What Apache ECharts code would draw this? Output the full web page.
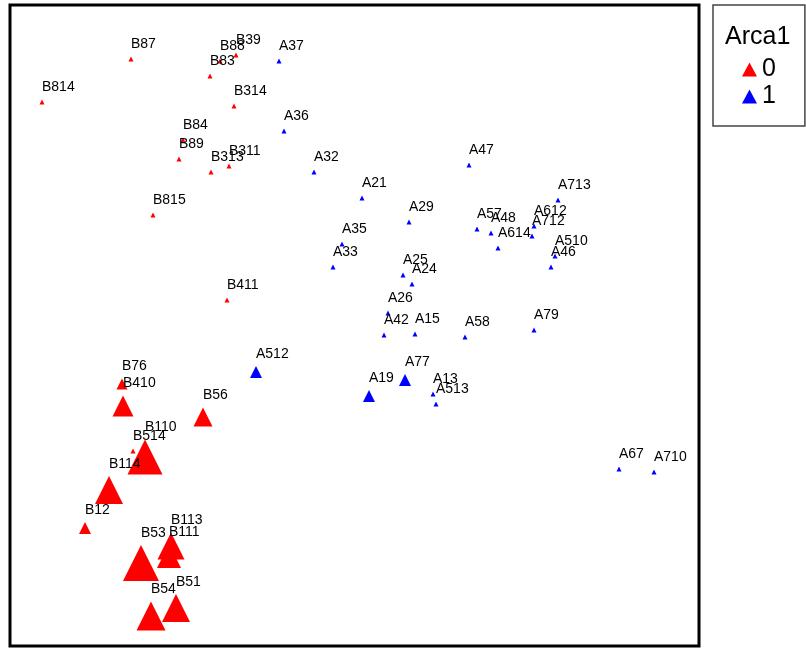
<!DOCTYPE html>
<html>
<head>
<meta charset="utf-8">
<script src="https://cdn.jsdelivr.net/npm/echarts@6/dist/echarts.min.js"></script>
<style>
  html, body { margin: 0; padding: 0; background: #fff; }
  #chart { width: 806px; height: 652px; }
</style>
</head>
<body>
<div id="chart"></div>
<script>
// ordination coordinates (frame units), plus triangle size (abundance)
const names0 = ["B87", "B88", "B39", "B83", "B814", "B314", "B84", "B89", "B311", "B313", "B815", "B411",
  "B76", "B410", "B56", "B514", "B110", "B114", "B12", "B53", "B113", "B111", "B51", "B54"];
const x0 = [131, 220, 236, 210, 42, 234, 183, 179, 229, 211, 153, 227,
  122, 123, 203, 133, 145, 109, 85, 141, 171, 169, 176, 151];
const y0 = [59, 61, 55, 76, 102, 106, 140, 159, 166, 172, 215, 300,
  384, 406, 417, 451, 457, 490, 528, 563, 546, 556, 608, 616];
const size0 = [5, 5, 5, 5, 5, 5, 5, 5, 5, 5, 5, 5,
  11, 21, 19, 5, 35, 28, 12, 36, 27, 24, 28, 29];

const names1 = ["A37", "A36", "A32", "A21", "A47", "A713", "A29", "A57", "A48", "A612", "A712", "A614",
  "A35", "A33", "A510", "A46", "A25", "A24", "A26", "A42", "A15", "A58", "A79", "A77",
  "A19", "A13", "A513", "A512", "A67", "A710"];
const x1 = [279, 284, 314, 362, 469, 558, 409, 477, 491, 534, 532, 498,
  342, 333, 555, 551, 403, 412, 388, 384, 415, 465, 534, 405,
  369, 433, 436, 256, 619, 654];
const y1 = [61, 131, 172, 198, 165, 200, 222, 229, 233, 226, 236, 248,
  244, 267, 256, 267, 275, 284, 313, 335, 334, 337, 330, 380,
  396, 394, 404, 372, 469, 472];
const size1 = [5, 5, 5, 5, 5, 5, 5, 5, 5, 5, 5, 5,
  5, 5, 5, 5, 5, 5, 5, 5, 5, 5, 5, 12,
  12, 5, 5, 12, 5, 5];

const toData = (names, xs, ys, sizes) =>
  names.map((n, i) => ({ name: n, value: [xs[i], ys[i], sizes[i]] }));

const font = "Liberation Sans, Arial, sans-serif";
const chart = echarts.init(document.getElementById("chart"));

const labelStyle = {
  show: true,
  position: "top",
  distance: 5,
  align: "left",
  formatter: "{b}",
  color: "#000",
  fontSize: 14,
  fontFamily: font,
};

const option = {
  animation: false,
  title: {
    text: "Arca1",
    left: 720,
    top: 20,
    textStyle: { fontSize: 25, fontWeight: "normal", color: "#000", fontFamily: font },
  },
  legend: {
    orient: "vertical",
    left: 713,
    top: 5,
    padding: [52, 29, 17, 29],
    itemWidth: 15,
    itemHeight: 14,
    itemGap: 2,
    icon: "triangle",
    borderColor: "#444",
    borderWidth: 1.5,
    textStyle: { fontSize: 25, lineHeight: 25, color: "#000", fontFamily: font },
    data: ["0", "1"],
  },
  grid: {
    left: 10,
    right: 107,
    top: 5,
    bottom: 6,
    show: true,
    borderColor: "#000",
    borderWidth: 3,
    backgroundColor: "#fff",
  },
  xAxis: { type: "value", min: 10, max: 699, show: false },
  yAxis: { type: "value", min: 5, max: 646, inverse: true, show: false },
  series: [
    {
      name: "0",
      type: "scatter",
      symbol: "triangle",
      symbolSize: (d) => d[2],
      itemStyle: { color: "#ff0000", opacity: 1 },
      label: labelStyle,
      data: toData(names0, x0, y0, size0),
    },
    {
      name: "1",
      type: "scatter",
      symbol: "triangle",
      symbolSize: (d) => d[2],
      itemStyle: { color: "#0000ff", opacity: 1 },
      label: labelStyle,
      data: toData(names1, x1, y1, size1),
    },
  ],
};
chart.setOption(option);
</script>
</body>
</html>
